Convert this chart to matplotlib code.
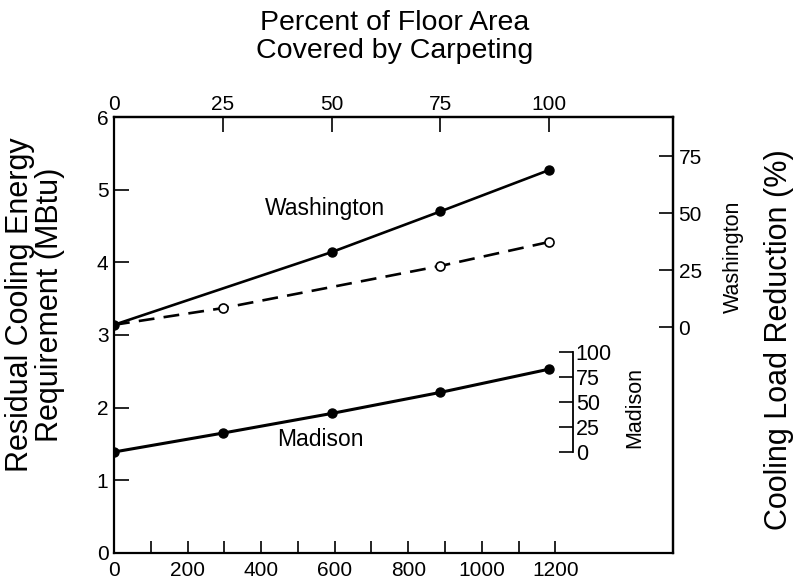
import matplotlib
matplotlib.use("Agg")
import matplotlib.pyplot as plt
import numpy as np

plt.rcParams['font.family'] = ['Liberation Sans', 'DejaVu Sans']

# carpet coverage (percent of floor area) and floor area per percent
carpet_pct = [0, 25, 50, 75, 100]
sqft_per_pct = 11.83

# residual cooling energy requirement (MBtu)
washington_solid_pct = [0, 50, 75, 100]
washington_solid = [3.14, 4.14, 4.70, 5.27]
washington_dash_pct = [0, 25, 75, 100]
washington_dash = [3.14, 3.37, 3.95, 4.28]
madison = [1.39, 1.65, 1.92, 2.21, 2.53]

area_ticks = [0, 200, 400, 600, 800, 1000, 1200]
area_minor = [100, 300, 500, 700, 900, 1100]
wash_ticks = [0, 25, 50, 75]
mad_ticks = [0, 25, 50, 75, 100]

# right-hand scales: reduction (%) as an offset/scale of the MBtu axis
wash_zero, wash_per25 = 3.11, 0.784
mad_zero, mad_per25 = 1.39, 0.344

fig = plt.figure(figsize=(7.97, 5.86), dpi=100)
ax = fig.add_axes([114/797, 33/586, 559/797, 436/586])

to_area = lambda p: np.asarray(p) * sqft_per_pct

ax.plot(to_area(washington_solid_pct), washington_solid, '-', color='black', lw=1.9,
        marker='o', ms=6.5, mfc='black', mec='black')
ax.plot(to_area(washington_dash_pct), washington_dash, color='black', lw=1.9,
        dashes=(6, 3.5), marker='o', ms=6.5, mfc='white', mec='black', mew=1.2,
        markevery=[1, 2, 3], zorder=3)
ax.plot(to_area(carpet_pct), madison, '-', color='black', lw=2.2,
        marker='o', ms=6.5, mfc='black', mec='black')

ax.set_xlim(0, 1520)
ax.set_ylim(0, 6)
ax.set_xticks(area_ticks)
ax.set_xticks(area_minor, minor=True)
ax.set_yticks(range(7))
ax.tick_params(axis='both', which='both', direction='in', labelsize=15, width=1.2)
ax.tick_params(axis='x', which='both', length=9, pad=6)
ax.tick_params(axis='y', length=11, pad=4)
for s in ax.spines.values():
    s.set_linewidth(1.6)

# top axis: percent of floor area carpeted
top = ax.secondary_xaxis('top', functions=(lambda x: x / sqft_per_pct,
                                           lambda p: p * sqft_per_pct))
top.set_xticks(carpet_pct)
top.tick_params(direction='in', length=11, width=1.2, labelsize=15, pad=2)
top.spines['top'].set_linewidth(1.6)

# Washington reduction scale on the right spine
wax = ax.secondary_yaxis('right', functions=(
    lambda y: (y - wash_zero) / wash_per25 * 25,
    lambda r: wash_zero + r / 25 * wash_per25))
wax.set_yticks(wash_ticks)
wax.tick_params(direction='in', length=10, width=1.2, labelsize=15, pad=4)
wax.spines['right'].set_linewidth(1.6)

# Madison reduction scale, a short bracket inside the plot
max_ = ax.secondary_yaxis((573 - 114) / 559, functions=(
    lambda y: (y - mad_zero) / mad_per25 * 25,
    lambda r: mad_zero + r / 25 * mad_per25))
max_.set_yticks(mad_ticks)
max_.spines['right'].set_bounds(0, 100)
max_.spines['right'].set_linewidth(1.3)
max_.tick_params(direction='in', length=10, width=1.2, labelsize=15.5, pad=2)


def fig_text(x, y, s, **kw):
    fig.text(x / 797, 1 - y / 586, s, ha='center', va='center', **kw)


fig_text(325, 208, 'Washington', fontsize=16.5)
fig_text(320, 440, 'Madison', fontsize=16.5)

fig_text(395, 37, 'Percent of Floor Area\nCovered by Carpeting', fontsize=20.5, linespacing=1.05)
fig_text(35, 305, 'Residual Cooling Energy\nRequirement (MBtu)', fontsize=22,
         rotation=90, linespacing=1.0)
fig_text(779, 340, 'Cooling Load Reduction (%)', fontsize=22, rotation=90)
fig_text(733, 257, 'Washington', fontsize=15.5, rotation=90)
fig_text(635, 407, 'Madison', fontsize=15.5, rotation=90)

fig.savefig('out.png', dpi=100)
